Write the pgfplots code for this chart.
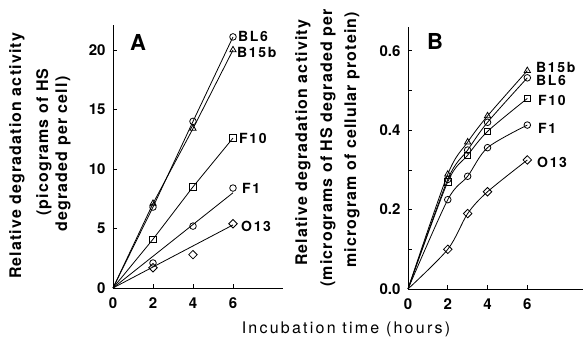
\documentclass[border=0pt]{standalone}
\usepackage{fontspec}
\setmainfont{TeX Gyre Heros}
\newfontfamily\lblfont{TeX Gyre Heros}[LetterSpace=12]
\newfontfamily\axfont{TeX Gyre Heros}[LetterSpace=7]
\newfontfamily\xfont{TeX Gyre Heros}[LetterSpace=14]
\usepackage{pgfplots}
\pgfplotsset{compat=1.18}
\pgfplotsset{myax/.style={
  scale only axis, anchor=south west, clip=false,
  axis x line=bottom, axis y line=left,
  axis line style={-, line width=0.9pt},
  tick align=inside, major tick length=4pt, minor tick length=4pt,
  tick style={black, line width=0.8pt},
  xmin=0, ymin=0, xtick={0,2,4,6},
  /pgf/number format/assume math mode=true,
  ticklabel style={font=\fontsize{15}{17}\selectfont\bfseries},
  yticklabel style={xshift=-4pt},
  xticklabel style={yshift=-6pt},
  every axis plot/.append style={black, line width=0.8pt,
     mark options={solid, fill=white, line width=0.8pt}},
}}
\begin{document}
\begin{tikzpicture}
\useasboundingbox (-113pt,-49pt) rectangle (471pt,288pt);
% ---------- Panel A ----------
\begin{axis}[myax, at={(0pt,0pt)}, width=170pt, height=263pt,
  xmax=8.5, ymax=22.1, ytick={0,5,10,15,20}]
\addplot[mark=o, mark size=3.3pt, mark indices={2,3,4}] coordinates {(0,0) (2,6.8) (4,14.0) (6,21.1)};
\addplot[mark=triangle, mark size=3.6pt, mark indices={2,3,4}] coordinates {(0,0) (2,7.1) (4,13.4) (6,20.0)};
\addplot[mark=square, mark size=3.2pt, mark indices={2,3,4}] coordinates {(0,0) (2,4.1) (4,8.5) (6,12.6)};
\addplot[no marks] coordinates {(0,0) (6,8.0)};
\addplot[only marks, mark=o, mark size=3.3pt] coordinates {(2,2.1) (4,5.2) (6,8.4)};
\addplot[no marks] coordinates {(0,0) (6,5.3)};
\addplot[only marks, mark=square, mark size=3.0pt, mark options={rotate=45}] coordinates {(2,1.7) (4,2.8) (6,5.4)};
\end{axis}
% ---------- Panel B ----------
\begin{axis}[myax, at={(295pt,-1pt)}, width=175pt, height=262pt,
  xmax=8.8, ymax=0.66, ytick={0,0.2,0.4,0.6}, minor ytick={0.1,0.3,0.5},
  yticklabel style={/pgf/number format/.cd, fixed, fixed zerofill, precision=1}]
\addplot[smooth, mark=triangle, mark size=3.6pt, mark indices={2,3,4,5}] coordinates {(0,0) (2,0.289) (3,0.37) (4,0.436) (6,0.55)};
\addplot[smooth, mark=o, mark size=3.3pt, mark indices={2,3,4,5}] coordinates {(0,0) (2,0.276) (3,0.35) (4,0.42) (6,0.532)};
\addplot[smooth, mark=square, mark size=3.2pt, mark indices={2,3,4,5}] coordinates {(0,0) (2,0.27) (3,0.337) (4,0.397) (6,0.48)};
\addplot[smooth, mark=o, mark size=3.3pt, mark indices={2,3,4,5}] coordinates {(0,0) (2,0.225) (3,0.284) (4,0.356) (6,0.413)};
\addplot[smooth, mark=square, mark size=3.0pt, mark options={rotate=45}, mark indices={2,3,4,5}] coordinates {(0,0) (2,0.10) (3,0.19) (4,0.245) (6,0.325)};
\end{axis}
% ---------- texts ----------
\begin{scope}[every node/.style={inner sep=0pt, font=\fontsize{14}{16}\selectfont\lblfont\bfseries, anchor=west}]
\node at (125pt,252pt) {BL6};
\node at (124pt,236pt) {B15b};
\node at (126pt,150pt) {F10};
\node at (129pt,100pt) {F1};
\node at (128pt,62pt) {O13};
\node at (423pt,221pt) {B15b};
\node at (423pt,208pt) {BL6};
\node at (425pt,188pt) {F10};
\node at (425pt,160pt) {F1};
\node at (424pt,126pt) {O13};
\end{scope}
\node[font=\fontsize{22}{24}\selectfont\bfseries] at (25pt,246pt) {A};
\node[font=\fontsize{22}{24}\selectfont\bfseries] at (322pt,247pt) {B};
\begin{scope}[every node/.style={inner sep=0pt, rotate=90, font=\fontsize{16}{18}\selectfont\axfont\bfseries}]
\node at (-96pt,132pt) {Relative degradation activity};
\node at (-69pt,146pt) {(picograms of HS};
\node at (-50pt,134pt) {degraded per cell)};
\node at (190pt,145pt) {Relative degradation activity};
\node at (215pt,140pt) {(micrograms of HS degraded per};
\node at (239pt,148pt) {microgram of cellular protein)};
\end{scope}
\node[inner sep=0pt, font=\fontsize{16}{18}\selectfont\xfont] at (233pt,-41pt) {Incubation time (hours)};
\end{tikzpicture}
\end{document}
